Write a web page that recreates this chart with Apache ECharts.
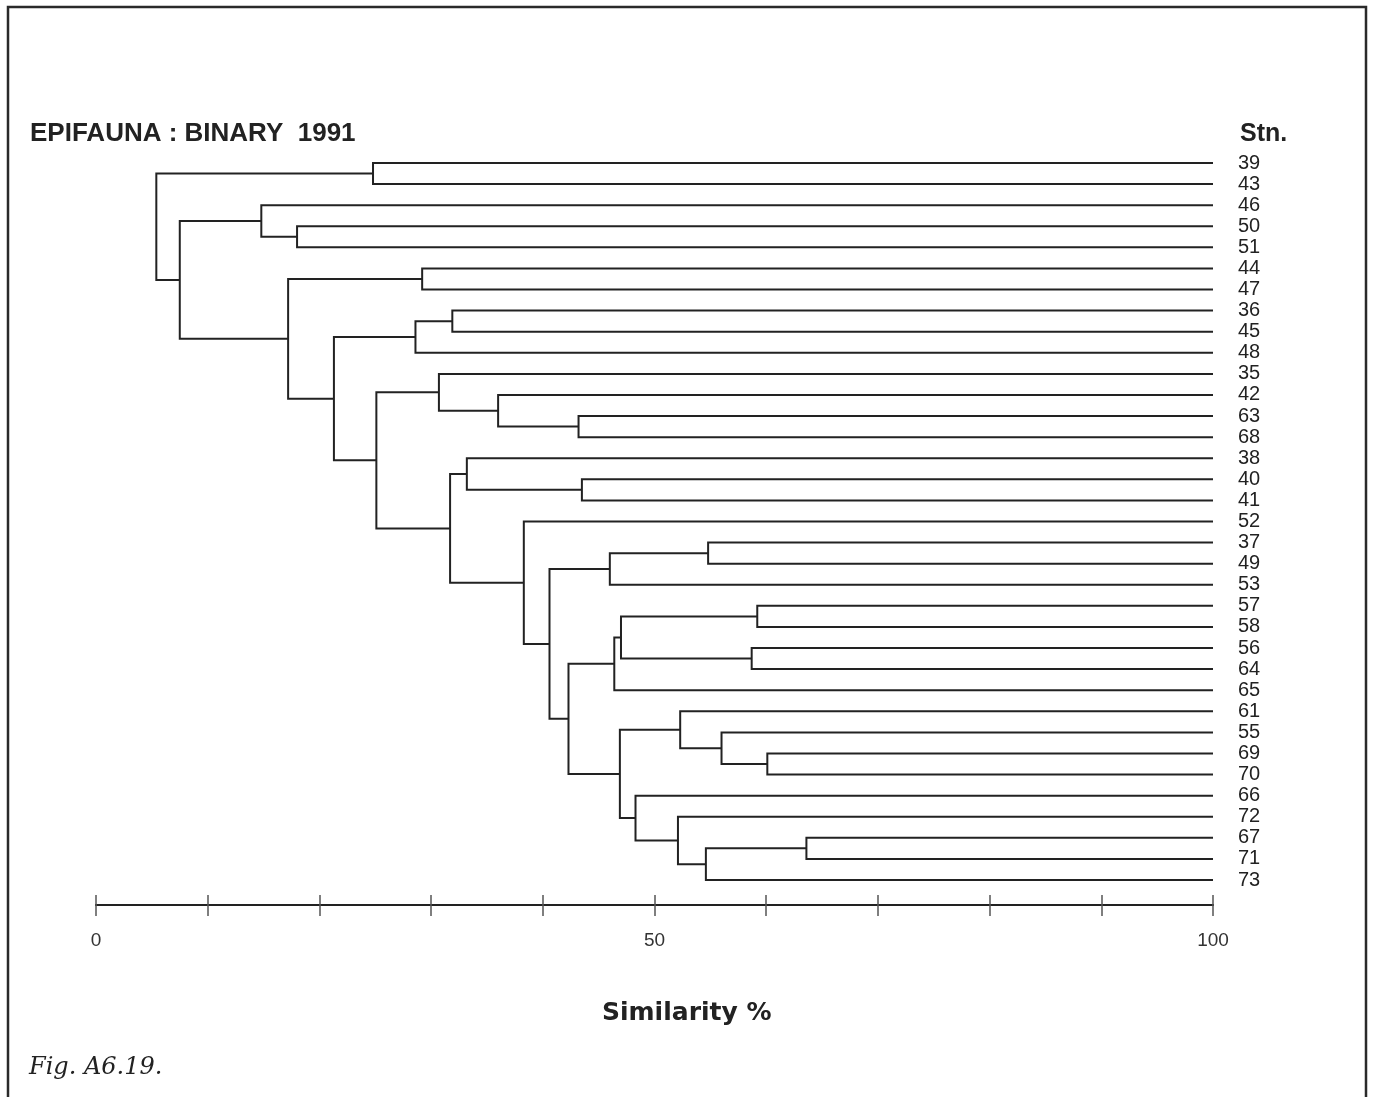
<!DOCTYPE html>
<html>
<head>
<meta charset="utf-8">
<script src="https://cdn.jsdelivr.net/npm/echarts@6/dist/echarts.min.js"></script>
<style>
html,body{margin:0;padding:0;background:#fff;}
#chart{width:1375px;height:1097px;}
</style>
</head>
<body>
<div id="chart"></div>
<script>
// Leaf order (top to bottom) — station numbers
var stations = ['39','43','46','50','51','44','47','36','45','48','35','42','63','68','38','40','41','52','37','49','53','57','58','56','64','65','61','55','69','70','66','72','67','71','73'];
// Linkage: each merge joins node A and node B at a similarity level.
// Leaf nodes are 0..34 (index in stations); merge k creates node 35+k.
var mergeA = [0, 3, 2, 5, 7, 39, 12, 11, 10, 15, 14, 18, 46, 21, 23, 48, 50, 28, 27, 26, 32, 55, 31, 30, 54, 51, 47, 17, 45, 43, 40, 38, 37, 35];
var mergeB = [1, 4, 36, 6, 8, 9, 13, 41, 42, 16, 44, 19, 20, 22, 24, 49, 25, 29, 52, 53, 33, 34, 56, 57, 58, 59, 60, 61, 62, 63, 64, 65, 66, 67];
var mergeSim = [24.8, 18.0, 14.8, 29.2, 31.9, 28.6, 43.2, 36.0, 30.7, 43.5, 33.2, 54.8, 46.0, 59.2, 58.7, 47.0, 46.4, 60.1, 56.0, 52.3, 63.6, 54.6, 52.1, 48.3, 46.9, 42.3, 40.6, 38.3, 31.7, 25.1, 21.3, 17.2, 7.5, 5.4];
var xTicks = [0, 50, 100];

var n = stations.length;
var nodeH = [], nodeY = [];
for (var i = 0; i < n; i++) { nodeH.push(100); nodeY.push(i); }
var links = [];
for (var k = 0; k < mergeSim.length; k++) {
  var a = mergeA[k], b = mergeB[k];
  links.push([mergeSim[k], nodeH[a], nodeY[a], nodeH[b], nodeY[b]]);
  nodeH.push(mergeSim[k]);
  nodeY.push((nodeY[a] + nodeY[b]) / 2);
}

var chart = echarts.init(document.getElementById('chart'), null, {renderer: 'canvas'});
var gridBox = {left: 96, right: 162, top: 163, height: 717, containLabel: false};
var axisCommon = {
  type: 'value', min: 0, max: 100, interval: 10, position: 'bottom', offset: 25,
  splitLine: {show: false},
  axisLine: {show: true, onZero: false, lineStyle: {color: '#222', width: 2}}
};
chart.setOption({
  backgroundColor: '#fff',
  animation: false,
  title: [
    {text: 'EPIFAUNA : BINARY  1991', left: 25, top: 116, textStyle: {fontFamily: 'Liberation Sans', fontWeight: 'bold', fontSize: 26, color: '#222'}},
    {text: 'Stn.', left: 1235, top: 117, textStyle: {fontFamily: 'Liberation Sans', fontWeight: 'bold', fontSize: 25, color: '#222'}},
    {text: 'Similarity %', left: 597, top: 996, textStyle: {fontFamily: 'DejaVu Sans', fontWeight: 'bold', fontSize: 25, color: '#222'}},
    {text: 'Fig. A6.19.', left: 24, top: 1051, textStyle: {fontFamily: 'DejaVu Serif', fontStyle: 'italic', fontWeight: 'normal', fontSize: 24, color: '#222'}}
  ],
  graphic: [
    {type: 'rect', shape: {x: 8, y: 7, width: 1358, height: 1120}, style: {fill: null, stroke: '#2a2a2a', lineWidth: 2.5}, silent: true}
  ],
  grid: [Object.assign({}, gridBox), Object.assign({}, gridBox)],
  xAxis: [
    Object.assign({}, axisCommon, {
      gridIndex: 0,
      axisTick: {show: true, inside: false, length: 11, lineStyle: {color: '#555', width: 1.5}},
      axisLabel: {show: true, margin: 26, fontFamily: 'Liberation Sans', fontSize: 19, color: '#333',
        formatter: function (v) { return xTicks.indexOf(v) >= 0 ? String(v) : ''; }}
    }),
    Object.assign({}, axisCommon, {
      gridIndex: 1,
      axisTick: {show: true, inside: true, length: 10, lineStyle: {color: '#555', width: 1.5}},
      axisLabel: {show: false}
    })
  ],
  yAxis: [{
    gridIndex: 0,
    type: 'value', inverse: true, min: 0, max: n - 1, interval: 1, position: 'right',
    axisLine: {show: false, onZero: false}, axisTick: {show: false}, splitLine: {show: false},
    axisLabel: {show: true, margin: 25, fontFamily: 'Liberation Sans', fontSize: 20, color: '#222',
      padding: [3, 0, 0, 0],
      formatter: function (v) { return stations[v] || ''; }}
  }, {
    gridIndex: 1,
    type: 'value', inverse: true, min: 0, max: n - 1, show: false,
    axisLine: {show: false, onZero: false}
  }],
  series: [{
    type: 'custom',
    clip: false,
    xAxisIndex: 0,
    yAxisIndex: 0,
    data: links,
    encode: {x: [0, 1, 3], y: [2, 4]},
    renderItem: function (params, api) {
      var s = api.value(0), ha = api.value(1), ya = api.value(2), hb = api.value(3), yb = api.value(4);
      var p1 = api.coord([ha, ya]), p2 = api.coord([s, ya]), p3 = api.coord([s, yb]), p4 = api.coord([hb, yb]);
      return {
        type: 'polyline',
        shape: {points: [p1, p2, p3, p4]},
        style: {stroke: '#222', lineWidth: 2, fill: null}
      };
    }
  }]
});
</script>
</body>
</html>
